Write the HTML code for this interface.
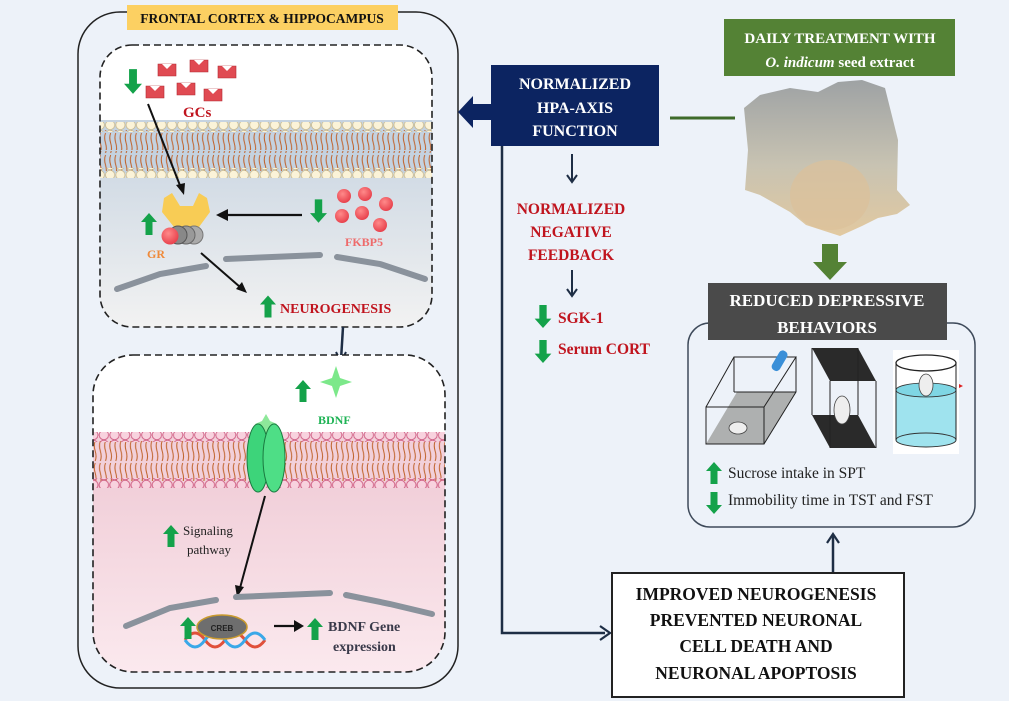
<!DOCTYPE html>
<html><head><meta charset="utf-8"><style>
html,body{margin:0;padding:0;background:#edf2f9;}
svg{display:block;font-family:"Liberation Serif",serif;}
</style></head><body>
<svg width="1009" height="701" viewBox="0 0 1009 701" xmlns="http://www.w3.org/2000/svg">
<defs>
<symbol id="up" viewBox="0 0 16 22"><polygon points="8,0 16,9 11.5,9 11.5,22 4.5,22 4.5,9 0,9" fill="#14a24a"/></symbol>
<symbol id="dn" viewBox="0 0 16 22"><polygon points="8,22 16,13 11.5,13 11.5,0 4.5,0 4.5,13 0,13" fill="#14a24a"/></symbol>
<pattern id="headG" x="105" y="0" width="10.3" height="10" patternUnits="userSpaceOnUse"><circle cx="5.1" cy="5" r="4.6" fill="#fbf3d8" stroke="#c9b98c" stroke-width="0.8"/></pattern>
<pattern id="headP" x="88" y="0" width="10.6" height="10" patternUnits="userSpaceOnUse"><circle cx="5.3" cy="5" r="4.7" fill="#f8d2de" stroke="#d2668a" stroke-width="1"/></pattern>
<pattern id="tail" x="0" y="0" width="5.15" height="22" patternUnits="userSpaceOnUse"><path d="M2.5 1 Q0.8 5.5 2.5 11 Q4.2 16.5 2.5 21" fill="none" stroke="#c0622a" stroke-width="1"/></pattern>
<linearGradient id="gTop" x1="0" y1="0" x2="0" y2="1"><stop offset="0" stop-color="#c6d3e0"/><stop offset="1" stop-color="#f2f2f2"/></linearGradient>
<linearGradient id="gBot" x1="0" y1="0" x2="0" y2="1"><stop offset="0" stop-color="#f1cfd9"/><stop offset="1" stop-color="#fbe9ee"/></linearGradient>
<radialGradient id="rb" cx="0.4" cy="0.35" r="0.7"><stop offset="0" stop-color="#ff8a8a"/><stop offset="1" stop-color="#e63c48"/></radialGradient>
<linearGradient id="seed" x1="0" y1="0" x2="0" y2="1"><stop offset="0" stop-color="#9ea2a4"/><stop offset="0.55" stop-color="#c8c3b2"/><stop offset="1" stop-color="#e2c9a0"/></linearGradient>
</defs>

<rect x="78" y="12" width="380" height="676" rx="42" fill="none" stroke="#222" stroke-width="1.5"/>
<rect x="127" y="5" width="271" height="25" fill="#fcd062"/>
<text x="262" y="23" text-anchor="middle" font-size="13.5" font-weight="bold" fill="#111">FRONTAL CORTEX &amp; HIPPOCAMPUS</text>

<clipPath id="c1"><rect x="100" y="45" width="332" height="282" rx="32"/></clipPath>
<g clip-path="url(#c1)">
<rect x="100" y="45" width="332" height="282" fill="#fff"/>
<rect x="100" y="120" width="332" height="207" fill="url(#gTop)"/>
<rect x="100" y="126" width="332" height="47" fill="#c4d2e0"/>
<rect x="100" y="130" width="332" height="20" fill="url(#tail)"/>
<rect x="100" y="151" width="332" height="20" fill="url(#tail)"/>
<rect x="100" y="122" width="332" height="10" fill="url(#headG)"/>
<rect x="100" y="168" width="332" height="10" fill="url(#headG)"/>
</g>
<rect x="100" y="45" width="332" height="282" rx="32" fill="none" stroke="#222" stroke-width="1.6" stroke-dasharray="7,4"/>
<g fill="#e04a52" stroke="#b22a32" stroke-width="0.6">
<path d="M158 64h18v12h-18z"/><path d="M190 60h18v12h-18z"/><path d="M218 66h18v12h-18z"/>
<path d="M146 86h18v12h-18z"/><path d="M177 83h18v12h-18z"/><path d="M204 89h18v12h-18z"/>
</g>
<g fill="#fff"><polygon points="162,64 167,69 172,64"/><polygon points="194,60 199,65 204,60"/><polygon points="222,66 227,71 232,66"/><polygon points="150,86 155,91 160,86"/><polygon points="181,83 186,88 191,83"/><polygon points="208,89 213,94 218,89"/></g>
<use href="#dn" x="124" y="66" width="18" height="31"/>
<text x="183" y="117" font-size="15" font-weight="bold" fill="#c0141e">GCs</text>
<line x1="148" y1="104" x2="181" y2="188" stroke="#111" stroke-width="2"/><polygon points="184,195 176,185 185,183" fill="#111"/>
<polygon points="164,198 172,193 180,206 193,206 199,193 207,198 210,212 199,227 174,227 162,212" fill="#f8cc55"/>
<circle cx="194" cy="235" r="9" fill="#aaa" stroke="#777"/><circle cx="186" cy="235" r="9" fill="#999" stroke="#666"/><circle cx="178" cy="235" r="9" fill="#888" stroke="#555"/>
<circle cx="170" cy="236" r="8.5" fill="url(#rb)"/>
<use href="#up" x="141" y="213" width="16" height="22"/>
<text x="147" y="258" font-size="12" font-weight="bold" fill="#ef8a3a">GR</text>
<line x1="302" y1="215" x2="226" y2="215" stroke="#111" stroke-width="2.2"/><polygon points="216,215 228,209 228,221" fill="#111"/>
<use href="#dn" x="310" y="199" width="17" height="24"/>
<g fill="url(#rb)"><circle cx="344" cy="196" r="7"/><circle cx="365" cy="194" r="7"/><circle cx="386" cy="204" r="7"/><circle cx="342" cy="216" r="7"/><circle cx="362" cy="213" r="7"/><circle cx="380" cy="225" r="7"/></g>
<text x="345" y="246" font-size="12" font-weight="bold" fill="#ee6a6a">FKBP5</text>
<g stroke="#8a929c" stroke-width="6" stroke-linecap="round" fill="none"><path d="M117 289 L160 274 L206 266"/><path d="M226 259 L320 255"/><path d="M337 257 L380 264 L425 279"/></g>
<line x1="201" y1="253" x2="240" y2="287" stroke="#111" stroke-width="2"/><polygon points="247,293 236,289 242,282" fill="#111"/>
<use href="#up" x="260" y="295" width="16" height="23"/>
<text x="280" y="313" font-size="14" font-weight="bold" fill="#c0141e">NEUROGENESIS</text>
<line x1="343" y1="327" x2="341" y2="360" stroke="#1e2e45" stroke-width="2.5"/><polyline points="336,352 341,362 346,352" fill="none" stroke="#1e2e45" stroke-width="2"/>

<clipPath id="c2"><rect x="93" y="355" width="352" height="317" rx="40"/></clipPath>
<g clip-path="url(#c2)">
<rect x="93" y="355" width="352" height="317" fill="#fff"/>
<rect x="93" y="484" width="352" height="188" fill="url(#gBot)"/>
<rect x="93" y="437" width="352" height="47" fill="#f2d0da"/>
<rect x="93" y="441" width="352" height="20" fill="url(#tail)"/>
<rect x="93" y="461" width="352" height="20" fill="url(#tail)"/>
<rect x="93" y="432" width="352" height="10" fill="url(#headP)"/>
<rect x="93" y="478" width="352" height="10" fill="url(#headP)"/>
</g>
<rect x="93" y="355" width="352" height="317" rx="40" fill="none" stroke="#222" stroke-width="1.6" stroke-dasharray="7,4"/>
<polygon points="336,366 340,378 352,382 340,386 336,398 332,386 320,382 332,378" fill="#7ce88a"/>
<use href="#up" x="295" y="380" width="16" height="22"/>
<text x="318" y="424" font-size="12" font-weight="bold" fill="#1fb355">BDNF</text>
<polygon points="266,414 270,421 277,424 270,427 266,434 262,427 255,424 262,421" fill="#8ee89a"/>
<ellipse cx="258" cy="458" rx="11" ry="34" fill="#3dd47a" stroke="#1a7a40"/>
<ellipse cx="274" cy="458" rx="11" ry="34" fill="#4ede86" stroke="#1a7a40"/>
<line x1="265" y1="496" x2="240" y2="588" stroke="#111" stroke-width="2"/><polygon points="237,597 235,585 244,587" fill="#111"/>
<use href="#up" x="163" y="525" width="16" height="22"/>
<text x="183" y="535" font-size="13" fill="#222">Signaling</text>
<text x="187" y="554" font-size="13" fill="#222">pathway</text>
<g stroke="#8a929c" stroke-width="6" stroke-linecap="round" fill="none"><path d="M126 626 L170 608 L216 600"/><path d="M236 597 L330 593"/><path d="M346 595 L390 604 L432 614"/></g>
<path d="M185 640 q10 -14 20 0 t20 0 t20 0 t20 0" fill="none" stroke="#e0503a" stroke-width="3"/>
<path d="M185 640 q10 14 20 0 t20 0 t20 0 t20 0" fill="none" stroke="#3aa8e8" stroke-width="3"/>
<ellipse cx="222" cy="627" rx="25" ry="12" fill="#6e6e6e" stroke="#c99a2e" stroke-width="1.5"/>
<text x="222" y="631" text-anchor="middle" font-family="Liberation Sans,sans-serif" font-size="8" font-weight="bold" fill="#222">CREB</text>
<use href="#up" x="180" y="617" width="16" height="22"/>
<line x1="274" y1="626" x2="296" y2="626" stroke="#111" stroke-width="2.2"/><polygon points="304,626 294,620 294,632" fill="#111"/>
<use href="#up" x="307" y="618" width="16" height="22"/>
<text x="328" y="631" font-size="14" font-weight="bold" fill="#3a3a4a">BDNF Gene</text>
<text x="333" y="651" font-size="14" font-weight="bold" fill="#3a3a4a">expression</text>

<polygon points="458,112 473,96 473,104 492,104 492,120 473,120 473,128" fill="#0c2461"/>
<rect x="491" y="65" width="168" height="81" fill="#0c2461"/>
<text x="575" y="89" text-anchor="middle" font-size="16" font-weight="bold" fill="#fff">NORMALIZED</text>
<text x="575" y="113" text-anchor="middle" font-size="16" font-weight="bold" fill="#fff">HPA-AXIS</text>
<text x="575" y="136" text-anchor="middle" font-size="16" font-weight="bold" fill="#fff">FUNCTION</text>
<polyline points="502,146 502,633 605,633" fill="none" stroke="#1e2e45" stroke-width="2.5"/>
<polyline points="600,626 610,633 600,640" fill="none" stroke="#1e2e45" stroke-width="2.2"/>
<line x1="572" y1="154" x2="572" y2="182" stroke="#1e2e45" stroke-width="2"/><polyline points="567,175 572,182 577,175" fill="none" stroke="#1e2e45" stroke-width="2"/>
<text x="571" y="214" text-anchor="middle" font-size="15.5" font-weight="bold" fill="#c0141e">NORMALIZED</text>
<text x="571" y="237" text-anchor="middle" font-size="15.5" font-weight="bold" fill="#c0141e">NEGATIVE</text>
<text x="571" y="260" text-anchor="middle" font-size="15.5" font-weight="bold" fill="#c0141e">FEEDBACK</text>
<line x1="572" y1="270" x2="572" y2="296" stroke="#1e2e45" stroke-width="2"/><polyline points="567,289 572,296 577,289" fill="none" stroke="#1e2e45" stroke-width="2"/>
<use href="#dn" x="534" y="305" width="18" height="23"/>
<text x="558" y="323" font-size="15.5" font-weight="bold" fill="#c0141e">SGK-1</text>
<use href="#dn" x="534" y="340" width="18" height="23"/>
<text x="558" y="354" font-size="15.5" font-weight="bold" fill="#c0141e">Serum CORT</text>

<rect x="724" y="19" width="231" height="57" fill="#548235"/>
<text x="840" y="43" text-anchor="middle" font-size="15" font-weight="bold" fill="#fff">DAILY TREATMENT WITH</text>
<text x="840" y="67" text-anchor="middle" font-size="15" font-weight="bold" fill="#fff"><tspan font-style="italic">O. indicum</tspan> seed extract</text>
<line x1="670" y1="118" x2="735" y2="118" stroke="#3e6b2a" stroke-width="3"/>
<polygon points="744,108 760,95 790,88 818,92 838,82 862,80 885,88 898,140 897,190 910,205 897,214 878,218 862,226 840,236 806,225 790,212 760,195 745,190 748,150" fill="url(#seed)"/>
<ellipse cx="830" cy="195" rx="40" ry="35" fill="#dcc09a" opacity="0.7"/>
<polygon points="822,244 838,244 838,262 847,262 830,280 813,262 822,262" fill="#548235"/>

<rect x="688" y="323" width="287" height="204" rx="22" fill="none" stroke="#3e4a5a" stroke-width="1.5"/>
<rect x="708" y="283" width="239" height="57" fill="#4a4a4a"/>
<text x="827" y="306" text-anchor="middle" font-size="17" font-weight="bold" fill="#fff">REDUCED DEPRESSIVE</text>
<text x="827" y="333" text-anchor="middle" font-size="17" font-weight="bold" fill="#fff">BEHAVIORS</text>
<polygon points="706,444 737,392 796,392 764,444" fill="#aeb0b0"/>
<g fill="none" stroke="#222" stroke-width="1"><rect x="706" y="407" width="58" height="37"/><polyline points="706,407 734,357 796,357 764,407"/><polyline points="796,357 796,392 764,444"/><line x1="734" y1="357" x2="734" y2="392"/><line x1="734" y1="392" x2="796" y2="392"/></g>
<rect x="775" y="350" width="9" height="22" rx="4" fill="#3a8fd8" transform="rotate(30 780 361)"/>
<ellipse cx="738" cy="428" rx="9" ry="6" fill="#eee" stroke="#444" stroke-width="0.8"/>
<polygon points="812,348 858,348 876,381 830,381" fill="#2a2a2a"/>
<polygon points="812,415 830,448 876,448 858,415" fill="#2a2a2a"/>
<g fill="none" stroke="#222" stroke-width="1"><line x1="812" y1="348" x2="812" y2="415"/><line x1="830" y1="381" x2="830" y2="448"/><line x1="876" y1="381" x2="876" y2="448"/><line x1="858" y1="348" x2="858" y2="415"/></g>
<ellipse cx="842" cy="410" rx="8" ry="14" fill="#eee" stroke="#444" stroke-width="0.8"/>
<rect x="893" y="350" width="66" height="104" fill="#fff"/>
<rect x="896" y="390" width="60" height="50" fill="#9fe3ee"/>
<ellipse cx="926" cy="390" rx="30" ry="7" fill="#7fd6e4" stroke="#333" stroke-width="0.8"/>
<ellipse cx="926" cy="440" rx="30" ry="7" fill="#9fe3ee" stroke="#333" stroke-width="1"/>
<ellipse cx="926" cy="363" rx="30" ry="8" fill="#fff" stroke="#222" stroke-width="1.3"/>
<line x1="896" y1="363" x2="896" y2="440" stroke="#222"/><line x1="956" y1="363" x2="956" y2="440" stroke="#222"/>
<ellipse cx="926" cy="385" rx="7" ry="11" fill="#eee" stroke="#444" stroke-width="0.8"/>
<polygon points="959,384 963,386 959,388" fill="#d22"/>
<use href="#up" x="706" y="462" width="16" height="22"/>
<text x="728" y="478" font-size="15.5" fill="#222">Sucrose intake in SPT</text>
<use href="#dn" x="706" y="492" width="16" height="22"/>
<text x="728" y="505" font-size="15.5" fill="#222">Immobility time in TST and FST</text>
<line x1="833" y1="572" x2="833" y2="536" stroke="#1e2e45" stroke-width="2.5"/><polyline points="827,543 833,534 839,543" fill="none" stroke="#1e2e45" stroke-width="2.2"/>

<rect x="612" y="573" width="292" height="124" fill="#fff" stroke="#222" stroke-width="2"/>
<text x="756" y="600" text-anchor="middle" font-size="17.5" font-weight="bold" fill="#111">IMPROVED NEUROGENESIS</text>
<text x="756" y="626" text-anchor="middle" font-size="17.5" font-weight="bold" fill="#111">PREVENTED NEURONAL</text>
<text x="756" y="652" text-anchor="middle" font-size="17.5" font-weight="bold" fill="#111">CELL DEATH AND</text>
<text x="756" y="679" text-anchor="middle" font-size="17.5" font-weight="bold" fill="#111">NEURONAL APOPTOSIS</text>
</svg>
</body></html>
